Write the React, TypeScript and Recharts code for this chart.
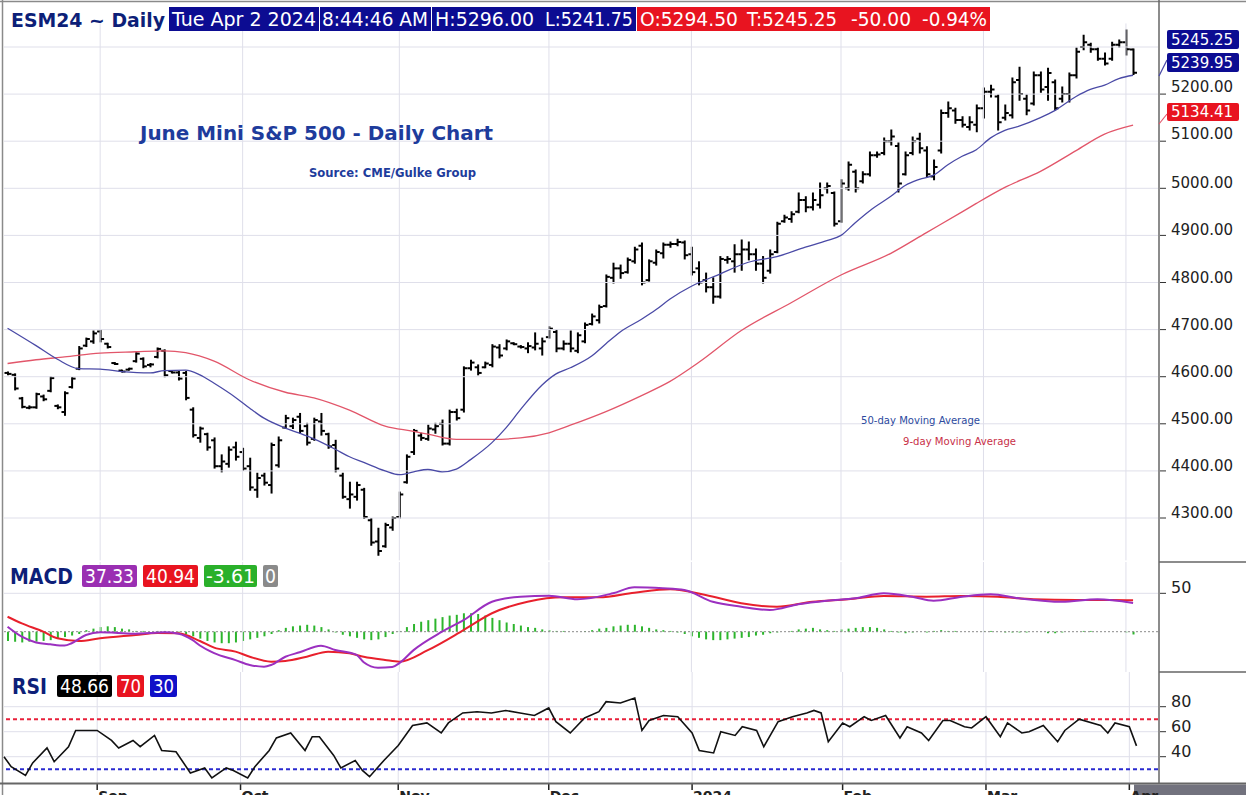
import React from 'react';
import { ComposedChart, Bar, Line, XAxis, YAxis, ReferenceLine } from 'recharts';

// ---------- DATA ----------
const opens = [4608,4604,4554,4534,4535,4558,4570,4538,4525,4578,4617,4666,4675,4696,4670,4629,4613,4615,4633,4638,4625,4642,4655,4612,4609,4608,4530,4470,4478,4465,4410,4415,4450,4440,4410,4360,4390,4370,4412,4492,4495,4515,4495,4468,4505,4478,4455,4390,4340,4345,4360,4295,4250,4240,4280,4302,4376,4440,4475,4468,4488,4500,4458,4525,4530,4618,4620,4620,4625,4662,4660,4671,4664,4660,4662,4660,4684,4695,4660,4670,4655,4675,4712,4720,4750,4810,4830,4822,4845,4878,4805,4842,4862,4880,4882,4885,4860,4830,4805,4790,4770,4848,4845,4860,4870,4860,4840,4825,4865,4930,4935,4950,4975,4960,4965,5000,4990,4930,5000,5035,5015,5030,5070,5075,5100,5090,5030,5075,5105,5080,5025,5080,5160,5165,5145,5130,5135,5170,5205,5195,5150,5155,5230,5190,5180,5240,5215,5225,5190,5200,5240,5300,5305,5295,5275,5275,5305,5310,5294.5];
const highs = [4610,4606,4556,4538,4565,4561,4600,4540,4568,4598,4664,4682,4697,4699,4671,4630,4614,4618,4651,4640,4628,4661,4657,4613,4611,4611,4534,4493,4480,4470,4434,4451,4461,4448,4427,4395,4395,4459,4472,4518,4512,4522,4501,4512,4522,4480,4465,4395,4376,4376,4363,4299,4278,4289,4302,4355,4434,4488,4480,4497,4501,4508,4529,4531,4621,4635,4625,4631,4668,4668,4678,4672,4666,4672,4693,4682,4706,4699,4676,4697,4693,4714,4733,4752,4816,4841,4837,4852,4875,4884,4848,4869,4884,4886,4892,4888,4875,4844,4820,4810,4855,4855,4880,4890,4886,4871,4855,4869,4928,4943,4950,4990,4982,4990,5011,5011,4992,5018,5056,5039,5035,5077,5077,5107,5124,5096,5077,5109,5117,5088,5060,5166,5183,5170,5152,5152,5177,5213,5219,5198,5177,5234,5257,5198,5247,5247,5255,5230,5215,5245,5298,5325,5308,5298,5287,5310,5315,5336,5296];
const lows = [4604,4572,4534,4532,4533,4549,4568,4532,4518,4576,4615,4664,4671,4674,4661,4626,4610,4614,4631,4619,4621,4640,4600,4608,4593,4551,4472,4461,4444,4406,4398,4408,4423,4401,4359,4344,4370,4353,4408,4490,4490,4480,4455,4465,4476,4448,4398,4342,4321,4338,4299,4242,4221,4238,4274,4300,4374,4435,4465,4465,4480,4455,4455,4508,4525,4614,4604,4619,4621,4640,4657,4668,4661,4651,4657,4646,4682,4653,4657,4653,4651,4672,4710,4714,4748,4799,4809,4820,4841,4795,4803,4837,4852,4875,4878,4850,4816,4795,4780,4756,4767,4841,4822,4826,4848,4826,4799,4820,4863,4928,4928,4948,4950,4954,4958,4990,4920,4928,4996,4992,5011,5026,5066,5071,5092,4992,5028,5071,5075,5024,5018,5075,5151,5138,5130,5124,5120,5149,5194,5124,5145,5149,5187,5156,5177,5204,5187,5166,5183,5183,5234,5294,5289,5272,5262,5272,5300,5283,5241.75];
const closes = [4606,4575,4536,4535,4563,4552,4597,4535,4565,4596,4660,4680,4692,4680,4663,4627,4611,4617,4649,4622,4626,4659,4603,4609,4596,4555,4476,4490,4450,4410,4420,4445,4430,4405,4365,4385,4375,4455,4465,4512,4508,4485,4460,4508,4485,4452,4405,4345,4350,4370,4302,4248,4230,4285,4300,4350,4430,4485,4470,4490,4495,4458,4525,4512,4618,4630,4608,4628,4664,4645,4675,4669,4663,4665,4670,4675,4702,4660,4670,4660,4688,4710,4728,4748,4812,4830,4820,4848,4870,4800,4845,4865,4880,4882,4886,4858,4822,4800,4790,4770,4850,4850,4860,4870,4860,4840,4810,4860,4925,4938,4945,4975,4960,4975,4985,5005,4925,5010,5050,5000,5030,5070,5072,5100,5110,5010,5070,5100,5085,5030,5045,5160,5170,5145,5135,5140,5170,5205,5210,5140,5160,5225,5200,5165,5240,5210,5245,5170,5200,5240,5290,5310,5295,5275,5265,5305,5310,5295,5245.25];

// moving averages read from the picture: [bar index, value]
const blueMA: [number, number][] = [[0,4703],[4,4666],[7,4637],[10,4617],[13,4616],[16,4611],[20,4608],[22,4613],[25,4614],[27,4604],[29,4586],[32,4556],[34,4533],[36,4512],[39,4491],[41,4480],[43,4468],[46,4446],[48,4430],[50,4418],[53,4400],[55,4392],[57,4398],[59,4403],[61,4398],[63,4404],[65,4424],[68,4460],[70,4492],[72,4530],[75,4582],[77,4606],[79,4619],[82,4644],[84,4670],[86,4695],[89,4722],[91,4742],[93,4765],[96,4792],[100,4818],[104,4843],[108,4855],[112,4875],[115,4889],[117,4900],[119,4927],[121,4952],[124,4983],[126,5006],[128,5019],[130,5028],[132,5050],[134,5068],[136,5082],[138,5107],[140,5123],[142,5132],[145,5150],[147,5165],[150,5195],[152,5210],[154,5219],[156,5233],[158,5240]];
const redMA: [number, number][] = [[0,4628],[4,4636],[8,4642],[13,4650],[18,4653],[22,4655],[25,4651],[29,4633],[34,4593],[39,4567],[43,4555],[48,4529],[53,4495],[57,4484],[59,4478],[63,4467],[68,4467],[72,4470],[76,4481],[79,4497],[84,4526],[89,4560],[93,4590],[97,4630],[103,4698],[110,4757],[117,4816],[124,4862],[129,4906],[134,4950],[136,4968],[140,5002],[145,5036],[150,5080],[154,5115],[158,5134]];

const macdPts: [number, number][] = [[0,6.5],[2,-6.5],[4,-14],[6,-16.4],[8,-18],[9,-15],[11,-4.3],[13,-0.8],[15,-1.3],[18,-2.6],[20,-1.7],[22,-0.8],[24,-2.6],[26,-11],[27,-18],[29,-28],[32,-37],[34,-43.4],[36,-45.6],[37,-43.4],[39,-32.6],[41,-26.8],[44,-18.2],[46,-23.8],[49,-30.3],[50,-39.8],[52,-46.9],[54,-46],[55,-41],[57,-24],[61,0],[64,15],[68,39],[72,45.6],[76,46.9],[80,42.2],[85,50],[88,57.8],[92,56.5],[95,54.3],[99,39],[103,32.6],[107,28.3],[111,35.7],[115,40.4],[119,43.5],[123,50],[127,45.6],[130,40.4],[134,45.6],[138,48.7],[142,43.5],[148,39],[153,42.2],[158,37.33]];
const signalPts: [number, number][] = [[0,19.5],[2,10.9],[5,0],[7,-8.6],[10,-12.1],[13,-8.6],[18,-4.3],[21,-1.7],[24,-2.1],[27,-12.1],[29,-20.8],[32,-26],[34,-32.6],[37,-39],[39,-38.2],[42,-32.6],[45,-26],[48,-28.1],[50,-32.6],[53,-36.8],[55,-39],[59,-24],[64,2],[68,24],[73,39],[78,44.8],[83,44.8],[88,50.8],[93,55.2],[98,47.8],[103,37],[108,32.6],[113,39],[118,42.2],[123,46.5],[129,45.6],[134,46.5],[139,45.6],[144,42.2],[150,41.3],[155,41.3],[158,40.94]];
const histValues = [-12,-13,-14,-13,-13,-12,-11,-9,-7,-5,-3,2,4,6,7,6,4,3,1,1,0,1,1,0,-1,-3,-6,-9,-12,-14,-15,-15,-14,-12,-10,-8,-6,-3,2,5,7,8,9,8,6,3,-1,-4,-6,-8,-10,-11,-10,-7,-3,1,6,10,13,15,17,19,21,22,24,24,23,21,18,15,12,10,8,6,5,3,2,1,1,0,0,1,2,4,5,7,8,9,9,7,5,3,2,1,-1,-3,-6,-8,-10,-11,-11,-10,-9,-8,-7,-5,-4,-2,-1,0,1,3,4,5,3,2,1,3,4,5,6,6,5,3,1,-1,-2,-1,0,-1,1,2,1,1,0,0,0,1,1,0,-1,-1,-1,-1,0,0,-2,-2,-1,0,0,1,1,0,0,0,0,-1,-3.61];
const rsiPts: [number, number][] = [[0,40],[1,32],[3,25],[4,35],[6,47],[7,36],[9,48],[10,61],[12,61],[13,61],[15,53],[16,47],[18,53],[19,48],[21,57],[22,45],[24,44],[26,27],[28,31],[29,23],[31,31],[32,29],[34,23],[35,32],[37,45],[38,55],[40,59],[42,45],[43,56],[44,56],[46,41],[47,31],[49,37],[50,29],[51,24],[53,37],[55,49],[57,65],[59,67],[61,59],[62,67],[64,75],[66,76],[68,75],[70,77],[72,75],[74,73],[76,79],[77,68],[79,59],[81,71],[83,76],[84,84],[86,83],[88,87],[89,61],[90,69],[92,73],[94,72],[96,59],[97,45],[99,43],[100,60],[102,57],[103,64],[105,61],[106,48],[108,68],[110,72],[112,75],[113,77],[114,75],[115,52],[117,67],[118,64],[120,72],[121,69],[123,73],[125,55],[126,64],[128,59],[129,53],[131,69],[132,69],[134,64],[135,63],[137,72],[139,56],[140,67],[142,59],[143,60],[145,65],[147,52],[148,61],[150,70],[153,65],[154,59],[155,67],[157,64],[158,48.66]];

const monthStarts = [13, 33, 55, 76, 96, 117, 137, 157];
const monthLabels = ['Sep', 'Oct', 'Nov', 'Dec', '2024', 'Feb', 'Mar', 'Apr'];
const priceTicks = [4300, 4400, 4500, 4600, 4700, 4800, 4900, 5000, 5100, 5200];
const priceGrid = [4300, 4400, 4500, 4600, 4700, 4800, 4900, 5000, 5100, 5200, 5300];
const macdTicks = [50];
const rsiTicks = [40, 60, 80];

const N = closes.length;
const PAD = 3;

const toMap = (pts: [number, number][]) => new Map(pts.map(([i, v]) => [i, v]));
const mBlue = toMap(blueMA), mRed = toMap(redMA), mMacd = toMap(macdPts), mSig = toMap(signalPts), mRsi = toMap(rsiPts);

const rows = Array.from({ length: N + PAD }, (_, i) => {
  if (i >= N) return { i };
  return {
    i,
    o: opens[i], h: highs[i], l: lows[i], c: closes[i],
    hl: [lows[i], highs[i]],
    maBlue: mBlue.get(i) ?? null,
    maRed: mRed.get(i) ?? null,
    macd: mMacd.get(i) ?? null,
    signal: mSig.get(i) ?? null,
    hist: histValues[i],
    rsi: mRsi.get(i) ?? null,
  };
});

// ---------- STYLE ----------
const W = 1246;
const AXW = 88;
const FONT = 'DejaVu Sans, Verdana, sans-serif';
const GRID = '#dfdfea';

const OhlcShape = (props: any) => {
  const { x, y, width, height, payload } = props;
  if (!payload || payload.o == null || x == null || y == null) return <g />;
  const cx = x + width / 2;
  const top = Math.min(y, y + height);
  const bot = Math.max(y, y + height);
  const { o, h, l, c } = payload;
  const span = h - l || 1;
  const py = (v: number) => top + ((h - v) / span) * (bot - top);
  const yo = py(o), yc = py(c);
  return (
    <g stroke="#000" strokeWidth={2}>
      <line x1={cx} x2={cx} y1={top - 0.5} y2={Math.max(bot, top + 1.5) + 0.5} />
      <line x1={cx - 3.5} x2={cx} y1={yo} y2={yo} />
      <line x1={cx} x2={cx + 3.5} y1={yc} y2={yc} />
    </g>
  );
};

const PriceTick = (props: any) => {
  const { y, payload } = props;
  const v = payload.value;
  const off = v >= 5100 ? -2 : 0;
  return (
    <g>
      <line x1={1160} x2={1166} y1={y} y2={y} stroke="#333" strokeWidth={1} />
      <text x={1171} y={y + off} fontSize={15} fontFamily={FONT} fill="#222">{v.toFixed(2)}</text>
    </g>
  );
};

const SmallTick = (props: any) => {
  const { y, payload } = props;
  return (
    <g>
      <line x1={1160} x2={1166} y1={y} y2={y} stroke="#333" strokeWidth={1} />
      <text x={1171} y={y} fontSize={16} fontFamily={FONT} fill="#222">{payload.value}</text>
    </g>
  );
};

const MonthTick = (props: any) => {
  const { x, payload } = props;
  const k = monthStarts.indexOf(payload.value);
  if (k < 0) return <g />;
  return (
    <g>
      <line x1={x} x2={x} y1={111} y2={118} stroke="#222" strokeWidth={1.5} />
      <text x={x + 1} y={129} fontSize={14} fontWeight="bold" fontFamily={FONT} fill="#222">{monthLabels[k]}</text>
    </g>
  );
};

const monthLines = monthStarts.map((m) => (
  <ReferenceLine key={'m' + m} x={m} stroke={GRID} strokeWidth={1} ifOverflow="extendDomain" />
));

const PriceChart = () => (
  <ComposedChart width={W} height={562} data={rows} margin={{ top: 23.45, right: 0, bottom: 1.6, left: 4 }}>
    <XAxis dataKey="i" type="category" hide />
    <YAxis orientation="right" width={AXW} domain={[4210, 5350]} ticks={priceTicks} allowDataOverflow
      axisLine={false} tickLine={false} tick={<PriceTick />} interval={0} />
    {priceGrid.map((g) => <ReferenceLine key={'g' + g} y={g} stroke={GRID} strokeWidth={1} />)}
    {monthLines}
    <Line dataKey="maRed" type="monotone" stroke="#e2566a" strokeWidth={1.3} dot={false} connectNulls isAnimationActive={false} />
    <Line dataKey="maBlue" type="monotone" stroke="#4a4aa6" strokeWidth={1.3} dot={false} connectNulls isAnimationActive={false} />
    <Bar dataKey="hl" barSize={6} shape={<OhlcShape />} isAnimationActive={false} />
  </ComposedChart>
);

const MacdChart = () => (
  <ComposedChart width={W} height={110} data={rows} margin={{ top: 0, right: 0, bottom: 0, left: 4 }}>
    <XAxis dataKey="i" type="category" hide />
    <YAxis orientation="right" width={AXW} domain={[-52.5, 90.8]} ticks={macdTicks} allowDataOverflow
      axisLine={false} tickLine={false} tick={<SmallTick />} interval={0} />
    <ReferenceLine y={50} stroke={GRID} strokeWidth={1} />
    {monthLines}
    <ReferenceLine y={0} stroke="#8a8a8a" strokeWidth={1} strokeDasharray="2 2" />
    <Bar dataKey="hist" barSize={2} fill="#2db52d" isAnimationActive={false} />
    <Line dataKey="signal" type="monotone" stroke="#e8202c" strokeWidth={2} dot={false} connectNulls isAnimationActive={false} />
    <Line dataKey="macd" type="monotone" stroke="#9b30c0" strokeWidth={2} dot={false} connectNulls isAnimationActive={false} />
  </ComposedChart>
);

const RsiChart = () => (
  <ComposedChart width={W} height={123} data={rows} margin={{ top: 0, right: 0, bottom: 0, left: 4 }}>
    <XAxis dataKey="i" type="category" height={12} interval={0} axisLine={false} tickLine={false} tick={<MonthTick />} />
    <YAxis orientation="right" width={AXW} domain={[18.96, 107.76]} ticks={rsiTicks} allowDataOverflow
      axisLine={false} tickLine={false} tick={<SmallTick />} interval={0} />
    {rsiTicks.map((t) => <ReferenceLine key={'r' + t} y={t} stroke={GRID} strokeWidth={1} />)}
    {monthLines}
    <ReferenceLine y={70} stroke="#e8203a" strokeWidth={2} strokeDasharray="4 3" />
    <ReferenceLine y={30} stroke="#2a2ad0" strokeWidth={2} strokeDasharray="4 3" />
    <Line dataKey="rsi" type="linear" stroke="#111" strokeWidth={1.6} dot={false} connectNulls isAnimationActive={false} />
  </ComposedChart>
);

const T = (p: { x: number; y: number; w?: number; size: number; fill: string; bold?: boolean; children: string; anchor?: string }) => (
  <text x={p.x} y={p.y} fontSize={p.size} fill={p.fill} fontFamily={FONT} fontWeight={p.bold ? 'bold' : 'normal'}
    textLength={p.w} lengthAdjust={p.w ? 'spacingAndGlyphs' : undefined} textAnchor={p.anchor as any}>{p.children}</text>
);

const NAVY = '#0c0c92';
const RED = '#e81420';

const Background = () => (
  <svg width={W} height={795} style={{ position: 'absolute', left: 0, top: 0 }}>
    <rect x={0} y={0} width={W} height={795} fill="#fff" />
    <rect x={1134} y={784.5} width={112} height={11} fill="#72727e" />
  </svg>
);

const Overlay = () => (
  <svg width={W} height={795} style={{ position: 'absolute', left: 0, top: 0, pointerEvents: 'none' }}>
    {/* frame */}
    <line x1={0} y1={1.5} x2={W} y2={1.5} stroke="#8a8a8a" strokeWidth={1.5} />
    <line x1={2.5} y1={0} x2={2.5} y2={795} stroke="#8a8a8a" strokeWidth={1.5} />
    <line x1={1159} y1={0} x2={1159} y2={784} stroke="#666" strokeWidth={1.5} />
    <line x1={1159} y1={562} x2={W} y2={562} stroke="#666" strokeWidth={1.5} />
    <line x1={1159} y1={672} x2={W} y2={672} stroke="#666" strokeWidth={1.5} />
    <line x1={0} y1={783.5} x2={W} y2={783.5} stroke="#666" strokeWidth={2} />

    {/* header */}
    <T x={11} y={27} size={20} w={154} fill="#0d1f78" bold>ESM24 ~ Daily</T>
    <rect x={169} y={7} width={150} height={24} fill={NAVY} />
    <rect x={320} y={7} width={111} height={24} fill={NAVY} />
    <rect x={432} y={7} width={204} height={24} fill={NAVY} />
    <rect x={637} y={7} width={353} height={24} fill={RED} />
    <T x={172} y={26} size={20} w={144} fill="#fff">Tue Apr 2 2024</T>
    <T x={322} y={26} size={20} w={106} fill="#fff">8:44:46 AM</T>
    <T x={435} y={26} size={20} w={99} fill="#fff">H:5296.00</T>
    <T x={545} y={26} size={20} w={88} fill="#fff">L:5241.75</T>
    <T x={640} y={26} size={20} w={98} fill="#fff">O:5294.50</T>
    <T x={747} y={26} size={20} w={90} fill="#fff">T:5245.25</T>
    <T x={851} y={26} size={20} w={60} fill="#fff">-50.00</T>
    <T x={922} y={26} size={20} w={65} fill="#fff">-0.94%</T>

    {/* titles */}
    <T x={140} y={140} size={19} w={353} fill="#1e3c9c" bold>June Mini S&P 500 - Daily Chart</T>
    <T x={309} y={177} size={12} w={167} fill="#1e3c9c" bold>Source: CME/Gulke Group</T>
    <T x={861} y={424} size={11} w={119} fill="#2c4a9e">50-day Moving Average</T>
    <T x={903} y={445} size={11} w={113} fill="#c83048">9-day Moving Average</T>

    {/* right value boxes */}
    <line x1={1159} y1={76} x2={1167} y2={60} stroke="#4a4aa6" strokeWidth={1.2} />
    <line x1={1159} y1={124} x2={1167} y2={114} stroke="#e2566a" strokeWidth={1.2} />
    <rect x={1167} y={30} width={72} height={19} rx={2} fill={NAVY} />
    <rect x={1167} y={53} width={72} height={19} rx={2} fill={NAVY} />
    <rect x={1167} y={103} width={72} height={18} rx={2} fill={RED} />
    <T x={1171} y={45} size={15} fill="#fff">5245.25</T>
    <T x={1171} y={68} size={15} fill="#fff">5239.95</T>
    <T x={1171} y={117} size={15} fill="#fff">5134.41</T>

    {/* MACD label */}
    <T x={10} y={584} size={22} w={63} fill="#0d1f78" bold>MACD</T>
    <rect x={82} y={565} width={55} height={22} rx={2} fill="#9a2fb2" />
    <rect x={143} y={565} width={55} height={22} rx={2} fill={RED} />
    <rect x={204} y={565} width={53} height={22} rx={2} fill="#2ab02a" />
    <rect x={263} y={565} width={15} height={22} rx={2} fill="#8a8a8a" />
    <T x={85} y={583} size={19} w={49} fill="#fff">37.33</T>
    <T x={146} y={583} size={19} w={49} fill="#fff">40.94</T>
    <T x={206} y={583} size={19} w={49} fill="#fff">-3.61</T>
    <T x={265} y={583} size={19} w={11} fill="#fff">0</T>

    {/* RSI label */}
    <T x={12} y={694} size={22} w={35} fill="#0d1f78" bold>RSI</T>
    <rect x={57} y={675} width={55} height={22} rx={2} fill="#000" />
    <rect x={117} y={675} width={27} height={22} rx={2} fill={RED} />
    <rect x={150} y={675} width={27} height={22} rx={2} fill="#1010c8" />
    <T x={60} y={693} size={19} w={49} fill="#fff">48.66</T>
    <T x={120} y={693} size={19} w={21} fill="#fff">70</T>
    <T x={153} y={693} size={19} w={21} fill="#fff">30</T>
  </svg>
);

export default function App() {
  return (
    <div style={{ position: 'absolute', left: 0, top: 0, width: W, height: 795, background: '#fff', overflow: 'hidden', fontFamily: FONT }}>
      <Background />
      <div style={{ position: 'absolute', left: 0, top: 0 }}><PriceChart /></div>
      <div style={{ position: 'absolute', left: 0, top: 562 }}><MacdChart /></div>
      <div style={{ position: 'absolute', left: 0, top: 672 }}><RsiChart /></div>
      <Overlay />
    </div>
  );
}
